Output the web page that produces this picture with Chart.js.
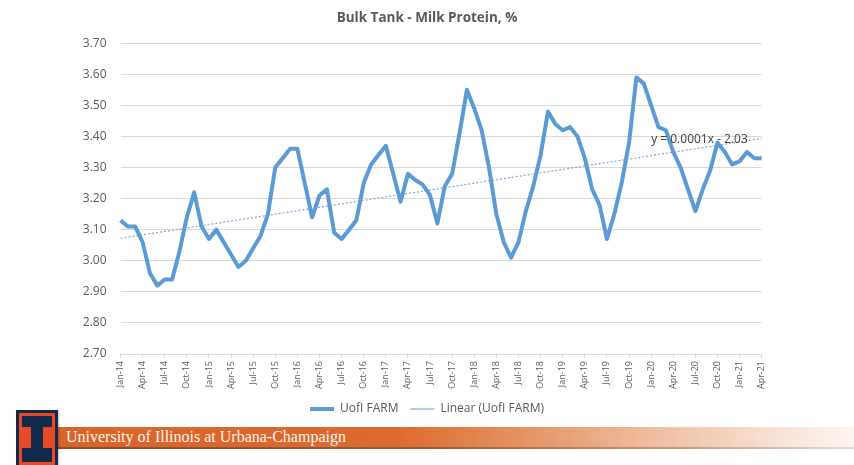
<!DOCTYPE html>
<html>
<head>
<meta charset="utf-8">
<title>Bulk Tank - Milk Protein, %</title>
<script src="https://cdn.jsdelivr.net/npm/chart.js@4.4.1/dist/chart.umd.min.js"></script>
<style>
  html, body { margin: 0; padding: 0; background: #ffffff; width: 854px; height: 465px; overflow: hidden; }
  body { position: relative; font-family: "Open Sans", sans-serif; }
  #chartBox { position: absolute; left: 0; top: 0; width: 854px; height: 425px; }
  .banner {
    position: absolute; left: 16px; top: 427px; width: 838px; height: 20px;
    background: linear-gradient(to right, #d8632a 0%, #dd6a2f 45%, #e49160 60%, #eebb9c 75%, #f7e0d2 90%, #fdf5f0 100%);
    border-bottom: 2px solid transparent;
    border-image: linear-gradient(to right, #8e4a26 0%, #9c5a36 50%, #c89a80 80%, #e8d8cf 100%) 1;
  }
  .banner span {
    position: absolute; left: 50px; top: 0px; line-height: 20px;
    font-family: "Liberation Serif", "DejaVu Serif", serif; font-size: 16px; color: #fff4ea; white-space: nowrap;
  }
  .logo { position: absolute; left: 16px; top: 410px; width: 42px; height: 60px; background: #13294b; box-shadow: 1px 1px 2px rgba(0,0,0,0.25); }
  .logo .fill { position: absolute; left: 3px; top: 3px; width: 36px; height: 57px; background: #e84a27; }
  .logo .bar { position: absolute; left: 3px; width: 30px; background: #13294b; }
  .logo .top { top: 3px; height: 11px; }
  .logo .bot { top: 35px; height: 14px; }
  .logo .stem { position: absolute; left: 12px; top: 13px; width: 12px; height: 23px; background: #13294b; }
</style>
</head>
<body>
<div id="chartBox"><canvas id="chart" width="854" height="425"></canvas></div>
<div class="banner"><span>University of Illinois at Urbana-Champaign</span></div>
<div class="logo"><div class="fill"><div class="bar top"></div><div class="stem"></div><div class="bar bot"></div></div></div>
<script>
// Monthly bulk tank milk protein (%), Jan-14 through Apr-21
const months = [
  'Jan-14','Feb-14','Mar-14','Apr-14','May-14','Jun-14','Jul-14','Aug-14','Sep-14','Oct-14','Nov-14','Dec-14',
  'Jan-15','Feb-15','Mar-15','Apr-15','May-15','Jun-15','Jul-15','Aug-15','Sep-15','Oct-15','Nov-15','Dec-15',
  'Jan-16','Feb-16','Mar-16','Apr-16','May-16','Jun-16','Jul-16','Aug-16','Sep-16','Oct-16','Nov-16','Dec-16',
  'Jan-17','Feb-17','Mar-17','Apr-17','May-17','Jun-17','Jul-17','Aug-17','Sep-17','Oct-17','Nov-17','Dec-17',
  'Jan-18','Feb-18','Mar-18','Apr-18','May-18','Jun-18','Jul-18','Aug-18','Sep-18','Oct-18','Nov-18','Dec-18',
  'Jan-19','Feb-19','Mar-19','Apr-19','May-19','Jun-19','Jul-19','Aug-19','Sep-19','Oct-19','Nov-19','Dec-19',
  'Jan-20','Feb-20','Mar-20','Apr-20','May-20','Jun-20','Jul-20','Aug-20','Sep-20','Oct-20','Nov-20','Dec-20',
  'Jan-21','Feb-21','Mar-21','Apr-21'
];

const protein = [
  3.13, 3.11, 3.11, 3.06, 2.96, 2.92, 2.94, 2.94, 3.03, 3.14, 3.22, 3.11,
  3.07, 3.10, 3.06, 3.02, 2.98, 3.00, 3.04, 3.08, 3.15, 3.30, 3.33, 3.36,
  3.36, 3.25, 3.14, 3.21, 3.23, 3.09, 3.07, 3.10, 3.13, 3.25, 3.31, 3.34,
  3.37, 3.28, 3.19, 3.28, 3.26, 3.245, 3.21, 3.12, 3.24, 3.28, 3.41, 3.55,
  3.49, 3.42, 3.30, 3.15, 3.06, 3.01, 3.06, 3.16, 3.24, 3.34, 3.48, 3.44,
  3.42, 3.43, 3.40, 3.33, 3.23, 3.18, 3.07, 3.15, 3.25, 3.38, 3.59, 3.57,
  3.50, 3.43, 3.42, 3.35, 3.30, 3.23, 3.16, 3.23, 3.29, 3.38, 3.35, 3.31,
  3.32, 3.35, 3.33, 3.33
];

const yTicks = [2.70, 2.80, 2.90, 3.00, 3.10, 3.20, 3.30, 3.40, 3.50, 3.60, 3.70];
const seriesName = 'UofI FARM';
const trendName = 'Linear (UofI FARM)';
const trendEquation = 'y = 0.0001x - 2.03';

// Least-squares linear trend of the monthly series
function linearTrend(values) {
  const n = values.length;
  let sx = 0, sy = 0, sxx = 0, sxy = 0;
  values.forEach((v, i) => { sx += i; sy += v; sxx += i * i; sxy += i * v; });
  const slope = (n * sxy - sx * sy) / (n * sxx - sx * sx);
  const icpt = (sy - slope * sx) / n;
  return values.map((_, i) => icpt + slope * i);
}
const trend = linearTrend(protein);

const equationLabel = {
  id: 'equationLabel',
  afterDatasetsDraw(chart) {
    const { ctx, scales: { x, y } } = chart;
    ctx.save();
    ctx.font = '12px "Open Sans", sans-serif';
    ctx.fillStyle = '#404040';
    ctx.textAlign = 'left';
    ctx.textBaseline = 'middle';
    ctx.fillText(trendEquation, x.getPixelForValue(72), y.getPixelForValue(3.39));
    ctx.restore();
  }
};

const axisGray = '#595959';
const gridGray = '#d9d9d9';

new Chart(document.getElementById('chart'), {
  type: 'line',
  data: {
    labels: months,
    datasets: [
      {
        label: seriesName,
        data: protein,
        borderColor: '#5b9bd5',
        backgroundColor: '#5b9bd5',
        borderWidth: 4,
        pointRadius: 0,
        tension: 0,
        borderJoinStyle: 'round',
        yAxisID: 'y'
      },
      {
        label: trendName,
        data: trend,
        borderColor: '#7fa9d8',
        backgroundColor: '#7fa9d8',
        borderWidth: 1.2,
        borderDash: [2, 2],
        pointRadius: 0,
        tension: 0,
        yAxisID: 'y'
      }
    ]
  },
  options: {
    responsive: false,
    animation: false,
    devicePixelRatio: 1,
    layout: { padding: { left: 0, right: 0, top: 0, bottom: 0 } },
    plugins: {
      title: {
        display: true,
        text: 'Bulk Tank - Milk Protein, %',
        color: axisGray,
        font: { family: '"Open Sans", sans-serif', size: 13.5, weight: 'bold' },
        padding: { top: 10, bottom: 17 }
      },
      legend: {
        position: 'bottom',
        labels: {
          usePointStyle: true,
          pointStyle: 'line',
          pointStyleWidth: 24,
          boxHeight: 12,
          padding: 12,
          color: axisGray,
          font: { family: '"Open Sans", sans-serif', size: 12 }
        }
      },
      tooltip: { enabled: false }
    },
    scales: {
      x: {
        type: 'category',
        grid: {
          display: true,
          drawOnChartArea: false,
          tickLength: 4,
          color: (c) => (c.index % 3 === 0 ? gridGray : 'rgba(0,0,0,0)')
        },
        border: { display: true, color: gridGray },
        ticks: {
          autoSkip: false,
          minRotation: 90,
          maxRotation: 90,
          padding: 3,
          color: axisGray,
          font: { family: '"Open Sans", sans-serif', size: 9 },
          callback: (v, i) => (i % 3 === 0 ? months[i] : '')
        },
        afterFit(s) { s.height = 37; }
      },
      y: {
        position: 'left',
        min: yTicks[0],
        max: yTicks[yTicks.length - 1],
        afterBuildTicks(s) { s.ticks = yTicks.map(v => ({ value: v })); },
        ticks: {
          padding: 14,
          color: axisGray,
          font: { family: '"Open Sans", sans-serif', size: 12 },
          callback: (v) => Number(v).toFixed(2)
        },
        grid: { color: gridGray, drawTicks: false },
        border: { display: false },
        afterFit(s) { s.width = 120.5; }
      },
      pad: {
        position: 'right',
        display: true,
        grid: { display: false, drawTicks: false },
        ticks: { display: false },
        border: { display: false },
        afterFit(s) { s.width = 92.3; }
      }
    }
  },
  plugins: [equationLabel]
});
</script>
</body>
</html>
